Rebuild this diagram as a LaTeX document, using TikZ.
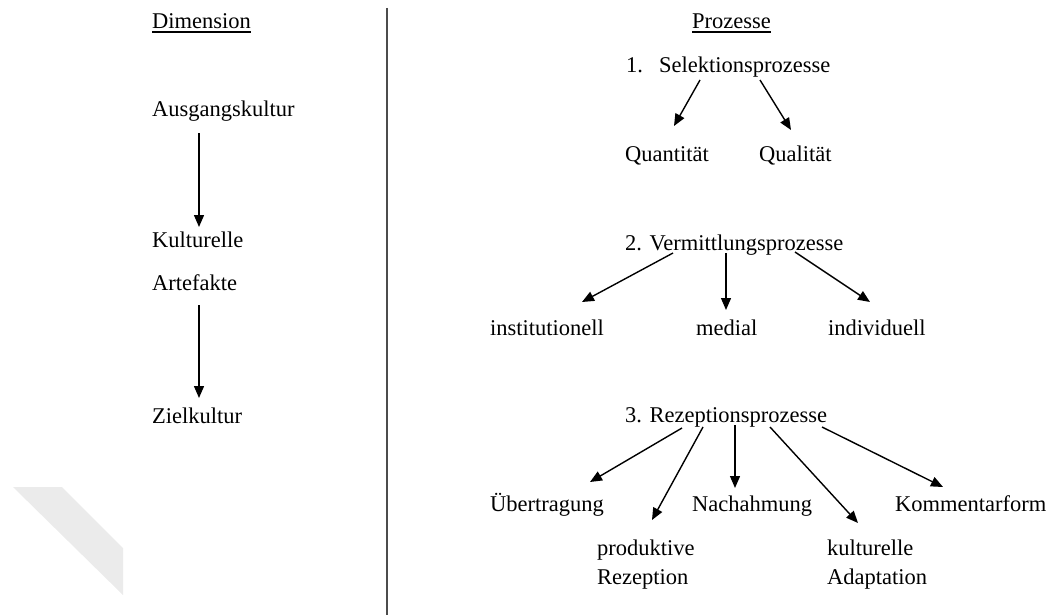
\documentclass[tikz,border=0pt]{standalone}
\usepackage{fontspec}
\setmainfont{Liberation Serif}
\usetikzlibrary{arrows.meta}
\begin{document}
\begin{tikzpicture}[x=1pt,y=-1pt,
  lbl/.style={anchor=base west,inner sep=0pt,font=\fontsize{22.5}{27}\selectfont},
  arr/.style={line width=1.4pt,-{Triangle[length=12pt,width=10pt]}},
  uline/.style={line width=1.2pt},
  divider/.style={line width=2pt,draw=black!70}]
\useasboundingbox (0,0) rectangle (1051,615);

% faint diagonal band, lower left
\fill[black!8] (13,487) -- (62,487) -- (123,548) -- (123,595) -- cycle;

% column divider
\coordinate (divtop) at (387,8);
\coordinate (divbot) at (387,615);
\draw[divider] (divtop) -- (divbot);

% headings
\node[lbl] (dim) at (152,29) {Dimension};
\draw[uline] (dim.base west) ++(0,3) -- ([yshift=-3pt]dim.base east);
\node[lbl] (proz) at (692,29) {Prozesse};
\draw[uline] (proz.base west) ++(0,3) -- ([yshift=-3pt]proz.base east);

% left column: dimensions
\node[lbl] (aus) at (152,117) {Ausgangskultur};
\node[lbl] (kul) at (152,247) {Kulturelle};
\node[lbl] (art) at (152,290) {Artefakte};
\node[lbl] (ziel) at (152,423) {Zielkultur};
\coordinate (ausB) at (199,133);
\coordinate (kulT) at (199,227);
\coordinate (artB) at (199,305);
\coordinate (zielT) at (199,398);
\draw[arr] (ausB) -- (kulT);
\draw[arr] (artB) -- (zielT);

% 1. selection
\node[lbl] (selnum) at (626,73) {1.};
\node[lbl] (sel) at (659,73) {Selektionsprozesse};
\node[lbl] (quan) at (625,161) {Quantität};
\node[lbl] (qual) at (759,161) {Qualität};
\coordinate (selL) at (700,80);
\coordinate (selR) at (760,80);
\coordinate (quanT) at (674,126);
\coordinate (qualT) at (791,130);
\draw[arr] (selL) -- (quanT);
\draw[arr] (selR) -- (qualT);

% 2. mediation
\node[lbl] (ver) at (625,250) {2. Vermittlungsprozesse};
\node[lbl] (inst) at (490,335) {institutionell};
\node[lbl] (med) at (696,335) {medial};
\node[lbl] (indi) at (828,335) {individuell};
\coordinate (verL) at (673,253);
\coordinate (verM) at (726,253);
\coordinate (verR) at (795,252);
\coordinate (instT) at (582,302);
\coordinate (medT) at (726,310);
\coordinate (indiT) at (870,302);
\draw[arr] (verL) -- (instT);
\draw[arr] (verM) -- (medT);
\draw[arr] (verR) -- (indiT);

% 3. reception
\node[lbl] (rez) at (625,422) {3. Rezeptionsprozesse};
\node[lbl] (ueb) at (490,511) {Übertragung};
\node[lbl] (nach) at (692,511) {Nachahmung};
\node[lbl] (komm) at (895,511) {Kommentarform};
\node[lbl] (prod) at (597,555) {produktive};
\node[lbl] (prod2) at (597,584) {Rezeption};
\node[lbl] (kadap) at (827,555) {kulturelle};
\node[lbl] (kadap2) at (827,584) {Adaptation};
\coordinate (rezA) at (682,428);
\coordinate (rezB) at (703,427);
\coordinate (rezC) at (735,425);
\coordinate (rezD) at (770,427);
\coordinate (rezE) at (822,427);
\coordinate (uebT) at (590,482);
\coordinate (prodT) at (652,520);
\coordinate (nachT) at (735,488);
\coordinate (kadapT) at (858,523);
\coordinate (kommT) at (943,487);
\draw[arr] (rezA) -- (uebT);
\draw[arr] (rezB) -- (prodT);
\draw[arr] (rezC) -- (nachT);
\draw[arr] (rezD) -- (kadapT);
\draw[arr] (rezE) -- (kommT);
\end{tikzpicture}
\end{document}
